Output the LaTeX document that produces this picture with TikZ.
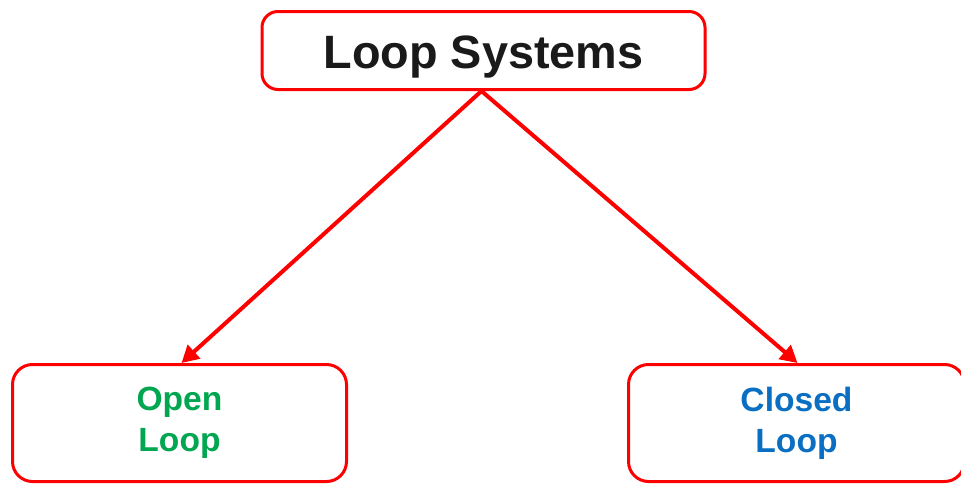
\documentclass[tikz,border=0pt]{standalone}
\usepackage{fontspec}
\setmainfont{Liberation Sans}
\usetikzlibrary{arrows.meta}
\definecolor{boxred}{HTML}{FF0000}
\definecolor{opengreen}{HTML}{00A650}
\definecolor{closedblue}{HTML}{0A6FC2}
\definecolor{titleblack}{HTML}{1A1A1A}
\begin{document}
\begin{tikzpicture}[x=1pt,y=-1pt,
  box/.style={draw=boxred, line width=3pt, rounded corners=16pt, fill=white, inner sep=0pt, align=center, font=\bfseries},
  conn/.style={draw=boxred, line width=4pt, -{Triangle[length=17pt,width=18pt]}}]
\useasboundingbox (0,0) rectangle (961,485);
\begin{scope}
\clip (0,0) rectangle (961,485);
\node[box, minimum width=443pt, minimum height=78pt, text=titleblack, text height=35pt, text depth=0pt, font=\bfseries\fontsize{46.8}{52}\selectfont] (top) at (483.5,50.5) {Loop Systems};
\node[box, minimum width=334pt, minimum height=117pt, rounded corners=20pt, text=opengreen, font=\bfseries\fontsize{33.6}{41}\selectfont] (open) at (179.5,423) {Open\\Loop};
\node[box, minimum width=336pt, minimum height=117pt, rounded corners=20pt, text=closedblue, font=\bfseries\fontsize{33.6}{41}\selectfont] (closed) at (796.5,423) {Closed\\Loop};
\end{scope}
\draw[conn] ([xshift=-2pt]top.south) -- ([xshift=2pt]open.north);
\draw[conn] ([xshift=-2pt]top.south) -- ([xshift=1pt]closed.north);
\end{tikzpicture}
\end{document}
